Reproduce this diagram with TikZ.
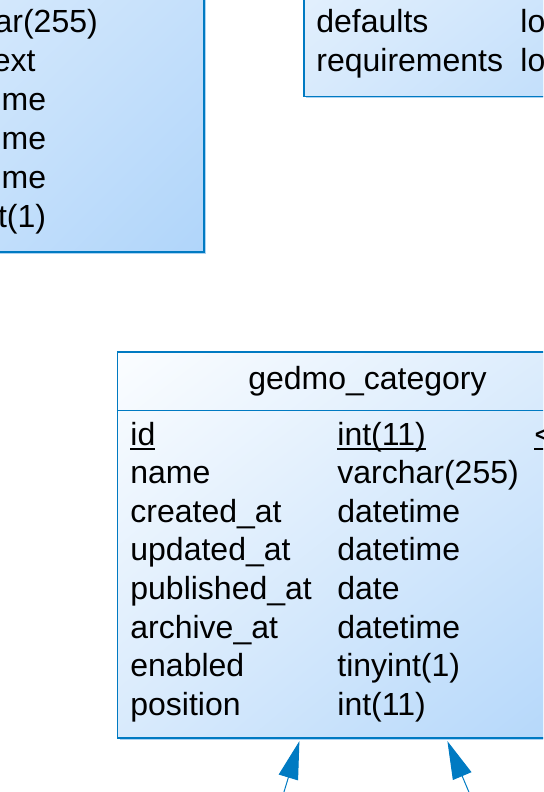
\documentclass[tikz,border=0pt]{standalone}
\usepackage{fontspec}
\setmainfont{Liberation Sans}
\usetikzlibrary{arrows.meta,calc,shadows,shadings}
\definecolor{tabline}{RGB}{0,122,194}
\definecolor{tablight}{RGB}{251,253,255}
\definecolor{tabmid}{RGB}{216,234,252}
\definecolor{tabdark}{RGB}{176,213,250}
\definecolor{tabshade}{RGB}{172,211,242}
\newcommand{\keyfield}[1]{\setbox0\hbox{#1}\rlap{\rule[-2.6pt]{\wd0}{1.1pt}}\box0}
\begin{document}
\begin{tikzpicture}[x=0.5pt,y=-0.5pt,>={Triangle[length=19pt,width=10pt]},line join=miter,
  font=\fontsize{16}{19}\selectfont,
  erbox/.style={draw=tabline,line width=0.6pt,inner sep=0pt,shade,
    upper left=tablight,upper right=tabmid,lower left=tabmid,lower right=tabdark,
    drop shadow={shadow xshift=1pt,shadow yshift=-1pt,fill=tabshade,opacity=1}},
  col/.style={anchor=base west,inner sep=0pt},
  fk/.style={->,color=tabline,line width=0.5pt}]
		\useasboundingbox (0,0) rectangle (543,792);
		\clip (0,0) rectangle (543,792);
		% tables cut by the frame
		\node[erbox,minimum width=252pt,minimum height=251pt] (menu) at (-48,1) {};
		\node[col] (menu1) at (-84,33) {varchar(255)};
		\node[col] (menu2) at (-77,71.9) {longtext};
		\node[col] (menu3) at (-77,110.8) {datetime};
		\node[col] (menu4) at (-77,149.7) {datetime};
		\node[col] (menu5) at (-77,188.6) {datetime};
		\node[col] (menu6) at (-77,227.5) {tinyint(1)};
		\node[erbox,minimum width=228pt,minimum height=173.25pt] (route) at (532,-76.75) {};
		\node[col] (routedef) at (316,33) {defaults};
		\node[col] (routedeft) at (520,33) {longtext};
		\node[col] (routereq) at (316,72) {requirements};
		\node[col] (routereqt) at (520,72) {longtext};
		% gedmo_category
		\node[erbox,minimum width=248.75pt,minimum height=193pt] (cat) at (366.25,545) {};
		\node[anchor=base,inner sep=0pt] (cattitle) at (367.5,389) {gedmo\_category};
		\draw[tabline,line width=0.6pt] ($(cat.north west)+(0,59)$)--($(cat.north east)+(0,59)$);
		\node[col] (catid) at (130,445) {\keyfield{id}};
		\node[col] (catidt) at (337,445) {\keyfield{int(11)}};
		\node[col] (catidk) at (534,445) {\keyfield{<pk>}};
		\node[col] (catname) at (130,483.6) {name};
		\node[col] (catnamet) at (337,483.6) {varchar(255)};
		\node[col] (catcre) at (130,522.2) {created\_at};
		\node[col] (catcret) at (337,522.2) {datetime};
		\node[col] (catupd) at (130,560.8) {updated\_at};
		\node[col] (catupdt) at (337,560.8) {datetime};
		\node[col] (catpub) at (130,599.4) {published\_at};
		\node[col] (catpubt) at (337,599.4) {date};
		\node[col] (catarc) at (130,638) {archive\_at};
		\node[col] (catarct) at (337,638) {datetime};
		\node[col] (catena) at (130,676.6) {enabled};
		\node[col] (catenat) at (337,676.6) {tinyint(1)};
		\node[col] (catpos) at (130,715.2) {position};
		\node[col] (catpost) at (337,715.2) {int(11)};
		% references into gedmo_category
		\coordinate (src1) at (278.5,810);
		\coordinate (src2) at (476.5,810);
		\draw[fk] (src1)--($(cat.south west)+(182.5,2.5)$);
		\draw[fk] (src2)--($(cat.south west)+(330.5,2.5)$);
		\end{tikzpicture}
\end{document}
